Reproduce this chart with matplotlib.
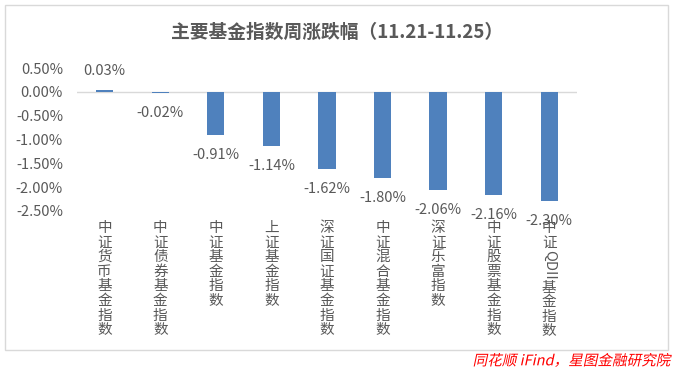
import matplotlib
matplotlib.use("Agg")
import matplotlib.pyplot as plt
from matplotlib.patches import Rectangle
from matplotlib.transforms import blended_transform_factory, Affine2D
from matplotlib.patheffects import AbstractPathEffect

plt.rcParams['font.family'] = ['Noto Sans CJK SC', 'DejaVu Sans']

title = "主要基金指数周涨跌幅（11.21-11.25）"
categories = ["中证货币基金指数", "中证债券基金指数", "中证基金指数", "上证基金指数",
              "深证国证基金指数", "中证混合基金指数", "深证乐富指数", "中证股票基金指数",
              "中证QDII基金指数"]
values = [0.03, -0.02, -0.91, -1.14, -1.62, -1.80, -2.06, -2.16, -2.30]
yticks = [0.5, 0.0, -0.5, -1.0, -1.5, -2.0, -2.5]
source = "同花顺 iFind，星图金融研究院"


class Slant(AbstractPathEffect):
    """Synthetic italic: skew the glyph outlines of a real Text artist."""
    def __init__(self, deg=12):
        super().__init__()
        self.deg = deg

    def draw_path(self, renderer, gc, tpath, affine, rgbFace=None):
        renderer.draw_path(gc, tpath, Affine2D().skew_deg(self.deg, 0) + affine, rgbFace)


W, H = 674, 371
fig = plt.figure(figsize=(W / 100, H / 100), dpi=100)
fig.patch.set_facecolor("white")

# outer frame
fig.patches.append(Rectangle((5 / W, 1 - 350 / H), 663 / W, 345 / H, transform=fig.transFigure,
                             fill=False, edgecolor="#D9D9D9", linewidth=1.0))

ax = fig.add_axes([77 / W, 1 - 211 / H, 500 / W, 143 / H])
x = list(range(len(categories)))
ax.bar(x, values, width=0.31, color="#4F81BD", zorder=3)
ax.axhline(0, color="#D9D9D9", linewidth=1.0, zorder=2)
ax.set_xlim(-0.5, len(categories) - 0.5)
ax.set_ylim(-2.5, 0.5)
ax.set_yticks(yticks)
ax.set_yticklabels([f"{v:.2f}%" for v in yticks], fontsize=10.5, color="#595959")
ax.tick_params(axis="y", length=0, pad=10)
ax.tick_params(axis="x", length=0)
ax.set_xticks([])
for s in ax.spines.values():
    s.set_visible(False)
ax.patch.set_alpha(0)

# value labels
for xi, v in zip(x, values):
    off = 19 if v >= 0 else -20
    ax.annotate(f"{v:.2f}%", (xi, v), xytext=(0, off), textcoords="offset pixels",
                ha="center", va="center", fontsize=10.5, color="#595959", zorder=4)

# vertical category labels (stacked characters)
trans = blended_transform_factory(ax.transData, fig.transFigure)
step = 14.6
y0 = 228
for xi, cat in zip(x, categories):
    y = y0
    i = 0
    while i < len(cat):
        ch = cat[i]
        if ch.isascii():
            j = i
            while j < len(cat) and cat[j].isascii():
                j += 1
            word = cat[i:j]
            hgt = 7.6 * len(word)
            yc = y - step / 2 + hgt / 2
            ax.text(xi, 1 - yc / H, word, transform=trans, ha="center", va="center",
                    rotation=-90, fontsize=10.5, color="#595959")
            y += hgt
            i = j
        else:
            ax.text(xi, 1 - y / H, ch, transform=trans, ha="center", va="center",
                    fontsize=10.5, color="#595959")
            y += step
            i += 1

fig.text(337 / W, 1 - 32 / H, title, ha="center", va="center", fontsize=13.5,
         fontweight="bold", color="#595959")
fig.text(671 / W, 1 - 361 / H, source, ha="right", va="center", fontsize=10.5,
         color="#FF0000", path_effects=[Slant(12)])

fig.savefig("out.png", dpi=100)
